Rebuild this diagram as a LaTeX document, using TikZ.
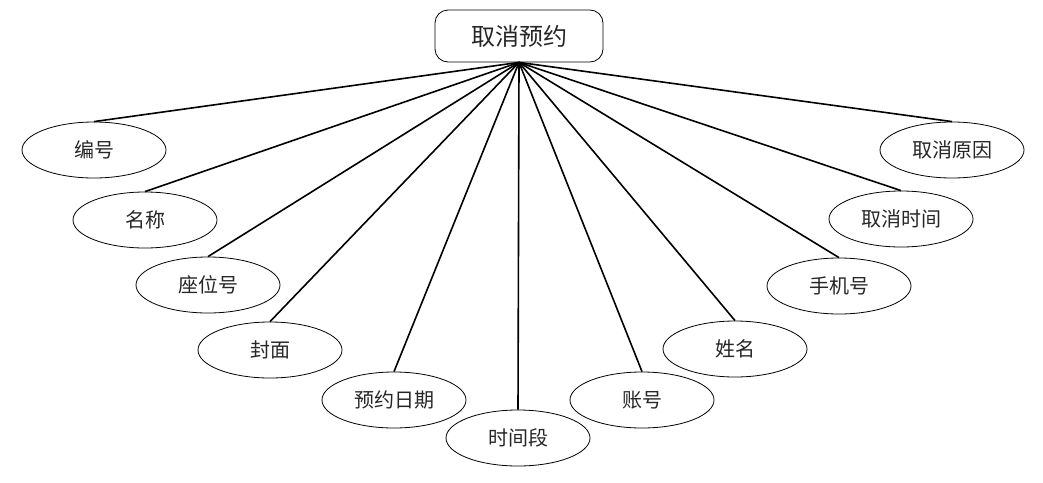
\documentclass[tikz,border=0pt]{standalone}
\usepackage{fontspec}
\setmainfont{Noto Sans CJK SC}
\usetikzlibrary{shapes.geometric}
\begin{document}
\begin{tikzpicture}[x=1pt,y=-1pt,
  attr/.style={ellipse,draw=black,line width=0.8pt,minimum width=144pt,minimum height=56pt,inner sep=0pt,font=\fontsize{20}{24}\selectfont,text=black!85},
  ent/.style={rectangle,rounded corners=13pt,draw=black,line width=0.8pt,minimum width=168pt,minimum height=52pt,inner sep=0pt,font=\fontsize{24}{28}\selectfont,text=black!85},
  link/.style={line width=1.6pt}]
\useasboundingbox (0,0) rectangle (1043,482);
\node[ent] (top) at (519,36) {取消预约};
\node[attr] (a1) at (94,150) {编号};
\node[attr] (a2) at (145,220) {名称};
\node[attr] (a3) at (208,285) {座位号};
\node[attr] (a4) at (270,350) {封面};
\node[attr] (a5) at (394,400) {预约日期};
\node[attr] (a6) at (518,438) {时间段};
\node[attr] (a7) at (642,400) {账号};
\node[attr] (a8) at (735,349) {姓名};
\node[attr] (a9) at (839,286) {手机号};
\node[attr] (a10) at (901,219) {取消时间};
\node[attr] (a11) at (952,150) {取消原因};
\foreach \n in {a1,a2,a3,a4,a5,a6,a7,a8,a9,a10,a11}
  \draw[link] (top.south) -- (\n.north);
\end{tikzpicture}
\end{document}
